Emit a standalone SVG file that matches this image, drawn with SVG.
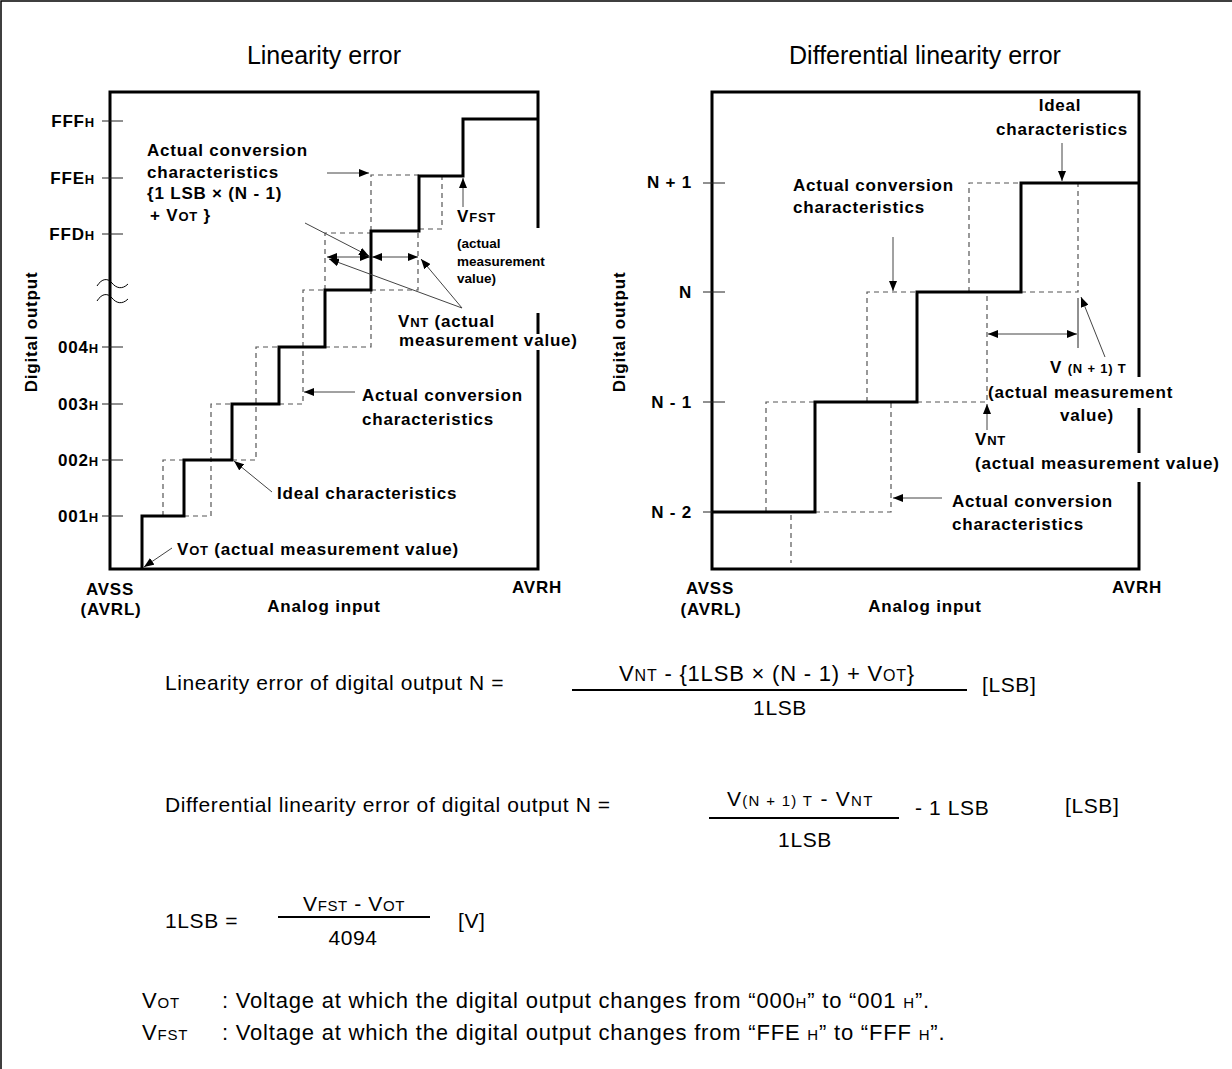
<svg xmlns="http://www.w3.org/2000/svg" width="1232" height="1069" viewBox="0 0 1232 1069">
<style>
.b{font-family:"Liberation Sans",Arial,sans-serif;font-weight:bold;font-size:17px;letter-spacing:0.8px;fill:#000}
.s{font-size:13px}
.sm{font-family:"Liberation Sans",Arial,sans-serif;font-weight:bold;font-size:13.5px;fill:#000}
.r{font-family:"Liberation Sans",Arial,sans-serif;font-size:21px;letter-spacing:0.6px;fill:#000}
.n{font-size:22px;letter-spacing:0.8px}
.sub{font-size:15px}
.sub2{font-size:16px}
.t{font-family:"Liberation Sans",Arial,sans-serif;font-size:25px;fill:#000}
.solid{fill:none;stroke:#000;stroke-width:3}
.box{fill:none;stroke:#000;stroke-width:3}
.dash{fill:none;stroke:#555;stroke-width:1.2;stroke-dasharray:5 4}
.tick{fill:none;stroke:#222;stroke-width:1}
.lead{fill:none;stroke:#444;stroke-width:1}
.frac{stroke:#000;stroke-width:2}
.c{text-anchor:middle}
.e{text-anchor:end}
</style>
<defs>
<marker id="ah" viewBox="0 0 10 8" refX="10" refY="4" markerWidth="10" markerHeight="8" markerUnits="userSpaceOnUse" orient="auto-start-reverse">
<path d="M0,0 L10,4 L0,8 Z" fill="#000"/>
</marker>
</defs>
<rect x="0" y="0" width="1232" height="1069" fill="#fff"/>
<path d="M1,1069 V1 H1232" fill="none" stroke="#000" stroke-width="1.5"/>

<g id="left-chart">
<text class="t c" x="324" y="64">Linearity error</text>
<path class="box" d="M538,228 V92 H110 V569 H538 V350 M538,334 V313"/>
<path class="tick" d="M102,121 H123 M102,178 H123 M102,234 H123 M102,347 H123 M102,404 H123 M102,460 H123 M102,516 H123"/>
<path fill="none" stroke="#000" stroke-width="1" d="M97,286 C102,278 108,278 112,283 S122,290 128,284 M97,301 C102,293 108,293 112,298 S122,305 128,299"/>
<text class="b e" x="95" y="127" letter-spacing="1.6">FFF<tspan class="s">H</tspan></text>
<text class="b e" x="95" y="184" letter-spacing="1.6">FFE<tspan class="s">H</tspan></text>
<text class="b e" x="95" y="240" letter-spacing="1.6">FFD<tspan class="s">H</tspan></text>
<text class="b e" x="99" y="353" letter-spacing="2.6">004<tspan class="s">H</tspan></text>
<text class="b e" x="99" y="410" letter-spacing="2.6">003<tspan class="s">H</tspan></text>
<text class="b e" x="99" y="466" letter-spacing="2.6">002<tspan class="s">H</tspan></text>
<text class="b e" x="99" y="522" letter-spacing="2.6">001<tspan class="s">H</tspan></text>
<text class="b c" transform="translate(37,332) rotate(-90)">Digital output</text>
<path class="dash" d="M163,516 V460 H184 M184,516 H211 V404 H232 M232,460 H256 V347 H279 M279,404 H303 V290 H325 M325,347 H371 V290 M325,290 V233 H371 M371,290 H418 V233 M371,231 V175 H419 M419,229 H442 V176 H463"/>
<path class="solid" d="M142,569 V516 H184 V460 H232 V404 H279 V347 H325 V290 H371 V231 H419 V176 H463 V119 H538"/>
<text class="b" x="147" y="156">Actual conversion</text>
<text class="b" x="147" y="178">characteristics</text>
<text class="b" x="147" y="199">{1 LSB × (N - 1)</text>
<text class="b" x="150" y="221">+ V<tspan class="s">OT</tspan> }</text>
<text class="b" x="457" y="222">V<tspan class="s">FST</tspan></text>
<text class="sm" x="457" y="248">(actual</text>
<text class="sm" x="457" y="266">measurement</text>
<text class="sm" x="457" y="283">value)</text>
<text class="b" x="398" y="327" letter-spacing="1.4">V<tspan class="s">NT</tspan> (actual</text>
<text class="b" x="399" y="346" letter-spacing="1.2">measurement value)</text>
<text class="b" x="362" y="401">Actual conversion</text>
<text class="b" x="362" y="425">characteristics</text>
<text class="b" x="277" y="499">Ideal characteristics</text>
<text class="b" x="177" y="555">V<tspan class="s">OT</tspan> (actual measurement value)</text>
<text class="b c" x="110" y="595">AVSS</text>
<text class="b c" x="111" y="615">(AVRL)</text>
<text class="b c" x="324" y="612">Analog input</text>
<text class="b c" x="537" y="593">AVRH</text>
</g>

<g id="right-chart">
<text class="t c" x="925" y="64">Differential linearity error</text>
<path class="box" d="M1139,377 V92 H712 V569 H1139 V482 M1139,453 V408"/>
<path class="tick" d="M703,183 H725 M703,292 H725 M703,402 H725 M703,512 H725"/>
<text class="b e" x="692" y="188">N + 1</text>
<text class="b e" x="692" y="298">N</text>
<text class="b e" x="692" y="408">N - 1</text>
<text class="b e" x="692" y="518">N - 2</text>
<text class="b c" transform="translate(625,332) rotate(-90)">Digital output</text>
<path class="dash" d="M766,512 V402 H815 M791,515 V563 M815,512 H891 V402 M867,402 V292 H917 M969,292 V183 H1021 M1021,292 H1078 V183 M917,402 H987 V295"/>
<path class="solid" d="M712,512 H815 V402 H917 V292 H1021 V183 H1139"/>
<path class="tick" d="M1078,298 V348" stroke="#000"/>
<text class="b c" x="1060" y="111">Ideal</text>
<text class="b c" x="1062" y="135">characteristics</text>
<text class="b" x="793" y="191">Actual conversion</text>
<text class="b" x="793" y="213">characteristics</text>
<text class="b" x="1050" y="373">V <tspan class="s">(N + 1) T</tspan></text>
<text class="b" x="988" y="398">(actual measurement</text>
<text class="b" x="1060" y="421">value)</text>
<text class="b" x="975" y="445">V<tspan class="s">NT</tspan></text>
<text class="b" x="975" y="469" letter-spacing="1.2">(actual measurement value)</text>
<text class="b" x="952" y="507">Actual conversion</text>
<text class="b" x="952" y="530">characteristics</text>
<text class="b c" x="710" y="594">AVSS</text>
<text class="b c" x="711" y="615">(AVRL)</text>
<text class="b c" x="925" y="612">Analog input</text>
<text class="b c" x="1137" y="593">AVRH</text>
</g>

<g id="connectors">
<path class="lead" marker-end="url(#ah)" d="M327,173 H369"/>
<path class="lead" marker-end="url(#ah)" d="M305,223 L369,256"/>
<path class="lead" marker-end="url(#ah)" d="M462,308 L329,259"/>
<path class="lead" marker-end="url(#ah)" d="M462,308 L421,259"/>
<path class="lead" marker-start="url(#ah)" marker-end="url(#ah)" d="M327,257 H370"/>
<path class="lead" marker-start="url(#ah)" marker-end="url(#ah)" d="M372,257 H418"/>
<path class="lead" marker-end="url(#ah)" d="M463,207 V178"/>
<path class="lead" marker-end="url(#ah)" d="M355,392 H304"/>
<path class="lead" marker-end="url(#ah)" d="M272,492 L234,461"/>
<path class="lead" marker-end="url(#ah)" d="M172,548 L144,567"/>
<path class="lead" marker-end="url(#ah)" d="M1062,143 V181"/>
<path class="lead" marker-end="url(#ah)" d="M893,237 V291"/>
<path class="lead" marker-end="url(#ah)" d="M1105,357 L1081,297"/>
<path class="lead" marker-end="url(#ah)" d="M987,430 V404"/>
<path class="lead" marker-end="url(#ah)" d="M942,498 H893"/>
<path class="lead" marker-start="url(#ah)" marker-end="url(#ah)" d="M988,334 H1077"/>
</g>

<g id="formulas">
<text class="r" x="165" y="690">Linearity error of digital output N =</text>
<text class="r c" x="767" y="681" style="font-size:22px;letter-spacing:0.8px">V<tspan class="sub2">NT</tspan> - {1LSB × (N - 1) + V<tspan class="sub2">OT</tspan>}</text>
<path class="frac" d="M572,690 H967"/>
<text class="r c" x="780" y="715">1LSB</text>
<text class="r" x="982" y="692">[LSB]</text>
<text class="r" x="165" y="812">Differential linearity error of digital output N =</text>
<text class="r" x="727" y="806" textLength="146" lengthAdjust="spacing">V<tspan class="sub">(N + 1) T</tspan> - V<tspan class="sub">NT</tspan></text>
<path class="frac" d="M709,818 H899"/>
<text class="r c" x="805" y="847">1LSB</text>
<text class="r" x="915" y="815">- 1 LSB</text>
<text class="r" x="1065" y="813">[LSB]</text>
<text class="r" x="165" y="928">1LSB =</text>
<text class="r c" x="354" y="911">V<tspan class="sub">FST</tspan> - V<tspan class="sub">OT</tspan></text>
<path class="frac" d="M278,917 H430"/>
<text class="r c" x="353" y="945">4094</text>
<text class="r" x="458" y="928">[V]</text>
<text class="r n" x="142" y="1008">V<tspan class="sub">OT</tspan></text>
<text class="r n" x="222" y="1008">: Voltage at which the digital output changes from “000<tspan class="sub">H</tspan>” to “001 <tspan class="sub">H</tspan>”.</text>
<text class="r n" x="142" y="1040">V<tspan class="sub">FST</tspan></text>
<text class="r n" x="222" y="1040">: Voltage at which the digital output changes from “FFE <tspan class="sub">H</tspan>” to “FFF <tspan class="sub">H</tspan>”.</text>
</g>
</svg>
